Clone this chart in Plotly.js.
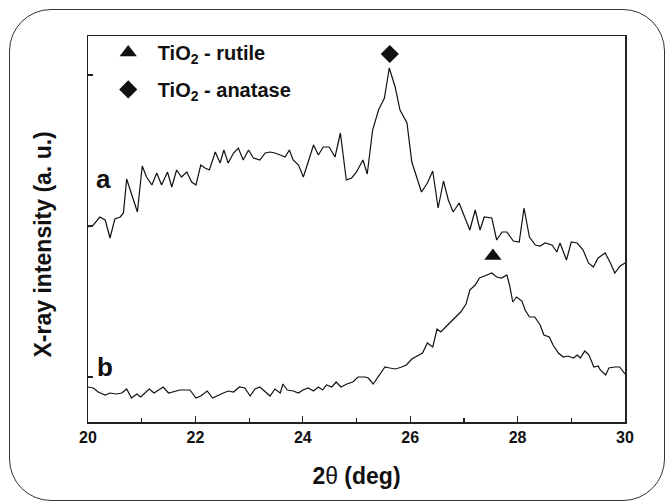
<!DOCTYPE html>
<html>
<head>
<meta charset="utf-8">
<script src="https://cdn.plot.ly/plotly-3.0.1.min.js"></script>
<style>
  html, body { margin: 0; padding: 0; background: #fff; overflow: hidden; }
  #wrap { position: relative; width: 666px; height: 502px; }
  #chart { width: 666px; height: 502px; }
  /* rounded outline around the whole figure */
  #outline { position: absolute; left: 9px; top: 9px; width: 654px; height: 490px;
             border: 1.5px solid #333; border-radius: 42px; pointer-events: none; }
</style>
</head>
<body>
<div id="wrap"><div id="chart"></div><div id="outline"></div></div>
<script>
// XRD patterns, 2θ in degrees, intensity in arbitrary units
const thetaA = [20.00,20.10,20.22,20.32,20.41,20.50,20.60,20.66,20.72,20.81,20.92,21.01,21.09,21.19,21.28,21.37,21.48,21.56,21.65,21.74,21.84,21.93,22.01,22.10,22.18,22.26,22.37,22.46,22.53,22.61,22.71,22.80,22.89,22.99,23.08,23.20,23.30,23.39,23.48,23.58,23.67,23.75,23.82,23.92,24.01,24.10,24.20,24.29,24.38,24.49,24.60,24.70,24.81,24.91,25.00,25.12,25.20,25.30,25.41,25.52,25.61,25.72,25.81,25.94,26.03,26.12,26.21,26.32,26.42,26.52,26.62,26.71,26.80,26.91,27.02,27.11,27.21,27.30,27.38,27.52,27.61,27.71,27.80,27.92,28.03,28.12,28.22,28.33,28.42,28.51,28.64,28.73,28.79,28.91,29.00,29.11,29.22,29.32,29.41,29.50,29.63,29.72,29.81,29.91,30.00];
const intensityA = [195,197,205,202,184,203,205,209,243,229,210,256,245,237,249,237,250,235,252,245,250,240,237,257,254,252,270,259,272,259,269,274,262,272,264,262,269,270,269,267,265,272,262,257,245,260,277,267,275,275,265,289,242,244,250,262,248,292,312,324,354,335,312,299,260,245,230,239,251,214,241,222,210,219,204,192,212,192,205,204,182,190,190,181,180,214,185,177,176,179,177,170,179,162,180,179,172,159,155,164,169,160,149,156,159];

const thetaB = [20.00,20.10,20.19,20.32,20.41,20.53,20.63,20.72,20.81,20.91,20.98,21.06,21.14,21.23,21.31,21.40,21.50,21.59,21.71,21.90,22.01,22.10,22.22,22.32,22.43,22.52,22.61,22.71,22.82,22.92,23.02,23.11,23.20,23.30,23.39,23.48,23.58,23.63,23.71,23.82,23.92,24.00,24.10,24.20,24.29,24.37,24.44,24.54,24.62,24.71,24.82,24.93,25.03,25.16,25.22,25.31,25.43,25.53,25.62,25.73,25.84,25.93,26.03,26.12,26.23,26.32,26.42,26.50,26.57,26.66,26.77,26.86,26.94,27.04,27.11,27.21,27.29,27.43,27.52,27.61,27.70,27.80,27.85,27.91,27.98,28.08,28.14,28.22,28.32,28.42,28.49,28.59,28.66,28.76,28.85,28.94,29.04,29.11,29.17,29.25,29.33,29.42,29.50,29.54,29.64,29.70,29.81,29.90,29.95,30.00];
const intensityB = [35,34,30,27,29,28,29,33,24,28,25,29,33,29,32,35,29,30,32,32,24,26,31,24,27,29,31,30,35,34,26,33,35,30,26,33,29,38,32,31,29,32,34,31,35,32,37,35,40,35,38,40,45,45,44,38,48,55,54,53,55,57,63,66,69,79,75,93,90,95,101,105,110,118,132,137,144,147,149,145,144,147,137,120,125,121,112,105,105,97,87,85,77,69,65,66,64,67,64,71,67,55,56,52,47,54,55,55,51,48];

// phase markers placed just above the reflections they identify
const rutileTheta = [27.54],  rutileMark = [166];
const anataseTheta = [25.62], anataseMark = [368];

// curve labels
const curveNames = ['a', 'b'];
const curveLabelTheta = [20.29, 20.31];
const curveLabelY = [243, 55];

const yTicks = [45, 196, 347];

const FONT = 'Liberation Sans, Arial, Helvetica, sans-serif';
const INK = '#111';

const traces = [
  { x: thetaA, y: intensityA, mode: 'lines', line: { color: INK, width: 1.2 },
    showlegend: false, hoverinfo: 'skip' },
  { x: thetaB, y: intensityB, mode: 'lines', line: { color: INK, width: 1.2 },
    showlegend: false, hoverinfo: 'skip' },
  { x: rutileTheta, y: rutileMark, mode: 'markers', name: 'TiO<sub>2</sub> - rutile',
    marker: { symbol: 'triangle-up', size: 15, color: INK }, legendgroup: 'r' },
  { x: anataseTheta, y: anataseMark, mode: 'markers', name: 'TiO<sub>2</sub> - anatase',
    marker: { symbol: 'diamond', size: 14, color: INK }, legendgroup: 'n' }
];

const layout = {
  width: 666, height: 502,
  margin: { l: 88, r: 41, t: 36, b: 80 },
  paper_bgcolor: '#fff', plot_bgcolor: '#fff',
  font: { family: FONT, color: INK },
  showlegend: true,
  legend: {
    x: 0.02, y: 1.008, xanchor: 'left', yanchor: 'top',
    bgcolor: 'rgba(0,0,0,0)', borderwidth: 0,
    font: { size: 20, weight: 'bold', family: FONT, color: INK },
    itemwidth: 49, tracegroupgap: 8
  },
  xaxis: {
    range: [20, 30], tick0: 20, dtick: 2,
    ticks: 'inside', ticklen: 6, tickwidth: 1.2, tickcolor: '#222',
    showline: true, linecolor: '#222', linewidth: 1.5, mirror: true,
    showgrid: false, zeroline: false,
    tickfont: { size: 16, weight: 'bold', family: FONT, color: INK },
    minor: { dtick: 1, ticks: 'inside', ticklen: 4, tickwidth: 1.2, tickcolor: '#222', showgrid: false },
    title: { text: '2<span style="font-weight:normal">θ</span> (deg)',
             font: { size: 23, weight: 'bold', family: FONT, color: INK }, standoff: 23 }
  },
  yaxis: {
    range: [0, 386], tickvals: yTicks, showticklabels: false,
    ticks: 'inside', ticklen: 5, tickwidth: 1.2, tickcolor: '#222',
    showline: true, linecolor: '#222', linewidth: 1.5, mirror: true,
    showgrid: false, zeroline: false
  },
  annotations: [
    { xref: 'paper', yref: 'paper', x: -0.083, y: 0.461, textangle: -90,
      text: 'X-ray intensity (a. u.)', showarrow: false, xanchor: 'center', yanchor: 'middle',
      font: { size: 23, weight: 'bold', family: FONT, color: INK } }
  ].concat(curveNames.map((t, i) => ({
      xref: 'x', yref: 'y', x: curveLabelTheta[i], y: curveLabelY[i], text: t,
      showarrow: false, xanchor: 'center', yanchor: 'middle',
      font: { size: 26, weight: 'bold', family: FONT, color: INK }
  })))
};

Plotly.newPlot('chart', traces, layout, { staticPlot: true, displayModeBar: false });
</script>
</body>
</html>
